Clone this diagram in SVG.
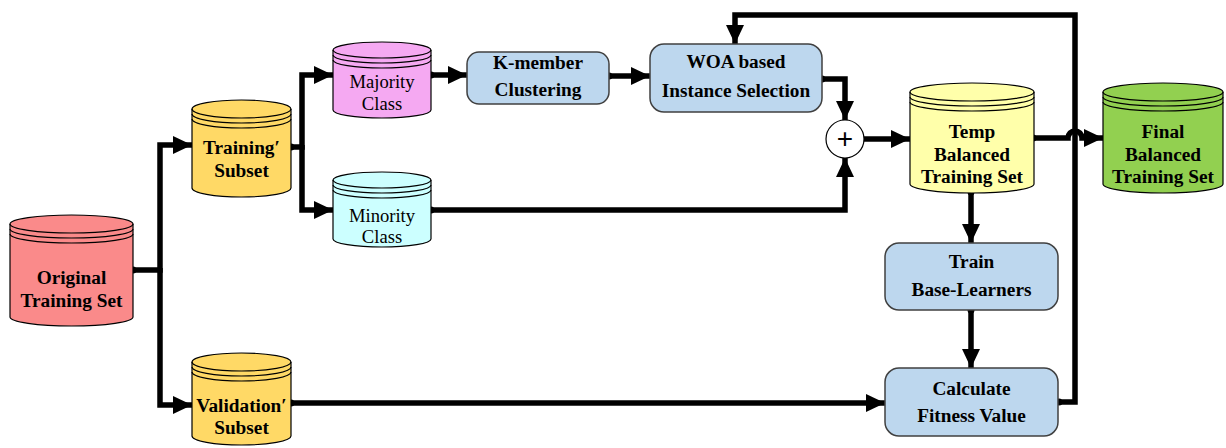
<svg xmlns="http://www.w3.org/2000/svg" width="1226" height="448" viewBox="0 0 1226 448">
<defs>
<style>
.cyl{stroke:#000;stroke-width:1.2}
.cap{fill:none;stroke:#000;stroke-width:1.2}
.box{fill:#BDD7EE;stroke:#404040;stroke-width:1.5}
.tb{font-family:"Liberation Serif","Times New Roman",serif;font-weight:bold;font-size:19.3px;text-anchor:middle;fill:#000}
.tr{font-family:"Liberation Serif","Times New Roman",serif;font-size:18.6px;text-anchor:middle;fill:#000}
.c{fill:none;stroke:#000;stroke-width:5.5;stroke-linejoin:miter}
</style>
<marker id="ah" markerUnits="userSpaceOnUse" markerWidth="20" markerHeight="20" viewBox="0 0 20 20" refX="19" refY="10" orient="auto">
<path d="M0,1 L19,10 L0,19 Z" fill="#000"/>
</marker>
<marker id="dot" markerUnits="userSpaceOnUse" markerWidth="8" markerHeight="8" viewBox="0 0 8 8" refX="4" refY="4" orient="auto">
<circle cx="4" cy="4" r="3.5" fill="#000"/>
</marker>
</defs>
<rect width="1226" height="448" fill="#fff"/>

<g id="connectors">
<path class="c" d="M133,270 H160 V145 H192" marker-start="url(#dot)" marker-end="url(#ah)"/>
<path class="c" d="M160,268 V405 H192" marker-end="url(#ah)"/>
<path class="c" d="M291,147 H302 V75 H333" marker-start="url(#dot)" marker-end="url(#ah)"/>
<path class="c" d="M302,145 V210 H333" marker-end="url(#ah)"/>
<path class="c" d="M431,75 H467" marker-start="url(#dot)" marker-end="url(#ah)"/>
<path class="c" d="M609,76 H650" marker-start="url(#dot)" marker-end="url(#ah)"/>
<path class="c" d="M822,79 H845 V120" marker-start="url(#dot)" marker-end="url(#ah)"/>
<path class="c" d="M431,210 H845 V158" marker-start="url(#dot)" marker-end="url(#ah)"/>
<path class="c" d="M864,139 H910" marker-end="url(#ah)"/>
<path class="c" d="M1033,138 H1068 A7,7 0 0 1 1082,138 H1103" marker-start="url(#dot)" marker-end="url(#ah)"/>
<path class="c" d="M971,192 V243" marker-start="url(#dot)" marker-end="url(#ah)"/>
<path class="c" d="M971,310 V368" marker-start="url(#dot)" marker-end="url(#ah)"/>
<path class="c" d="M291,403 H885" marker-start="url(#dot)" marker-end="url(#ah)"/>
<path class="c" d="M1059,402 H1075 V15 H735 V44" marker-start="url(#dot)" marker-end="url(#ah)"/>
</g>

<g id="original">
<path class="cyl" fill="#FA8A8A" d="M10,224 A61.5,9 0 0 1 133,224 V317 A61.5,9 0 0 1 10,317 Z"/>
<path class="cap" d="M10,224 A61.5,9 0 0 0 133,224 M10,229 A61.5,9 0 0 0 133,229 M10,234 A61.5,9 0 0 0 133,234"/>
<text class="tb" x="71.5" y="284">Original</text>
<text class="tb" x="71.5" y="307">Training Set</text>
</g>

<g id="training-subset">
<path class="cyl" fill="#FFD966" d="M192,109 A49.5,9 0 0 1 291,109 V188 A49.5,9 0 0 1 192,188 Z"/>
<path class="cap" d="M192,109 A49.5,9 0 0 0 291,109 M192,114 A49.5,9 0 0 0 291,114 M192,119 A49.5,9 0 0 0 291,119"/>
<text class="tb" x="241.5" y="154">Training′</text>
<text class="tb" x="241.5" y="177">Subset</text>
</g>

<g id="validation-subset">
<path class="cyl" fill="#FFD966" d="M192,362 A49.5,9 0 0 1 291,362 V436 A49.5,9 0 0 1 192,436 Z"/>
<path class="cap" d="M192,362 A49.5,9 0 0 0 291,362 M192,367 A49.5,9 0 0 0 291,367 M192,372 A49.5,9 0 0 0 291,372"/>
<text class="tb" x="241.5" y="412">Validation′</text>
<text class="tb" x="241.5" y="434">Subset</text>
</g>

<g id="majority">
<path class="cyl" fill="#F5A9F2" d="M333,50 A49,8 0 0 1 431,50 V110 A49,8 0 0 1 333,110 Z"/>
<path class="cap" d="M333,50 A49,8 0 0 0 431,50 M333,55 A49,8 0 0 0 431,55 M333,60 A49,8 0 0 0 431,60"/>
<text class="tr" x="382" y="88">Majority</text>
<text class="tr" x="382" y="110">Class</text>
</g>

<g id="minority">
<path class="cyl" fill="#CCFFFF" d="M333,180 A49,8 0 0 1 431,180 V239 A49,8 0 0 1 333,239 Z"/>
<path class="cap" d="M333,180 A49,8 0 0 0 431,180 M333,185 A49,8 0 0 0 431,185 M333,190 A49,8 0 0 0 431,190"/>
<text class="tr" x="382" y="222">Minority</text>
<text class="tr" x="382" y="243">Class</text>
</g>

<g id="kmember">
<rect class="box" x="467" y="52" width="142" height="52" rx="12"/>
<text class="tb" x="538" y="69">K-member</text>
<text class="tb" x="538" y="96">Clustering</text>
</g>

<g id="woa">
<rect class="box" x="650" y="44" width="172" height="68" rx="14"/>
<text class="tb" x="736" y="68">WOA based</text>
<text class="tb" x="736" y="97">Instance Selection</text>
</g>

<g id="plus">
<circle cx="845" cy="139" r="19" fill="#fff" stroke="#000" stroke-width="1.2"/>
<text x="845" y="148" font-family="Liberation Sans, Arial, sans-serif" font-size="28" text-anchor="middle">+</text>
</g>

<g id="temp">
<path class="cyl" fill="#FFFFAA" d="M910,92 A62,9 0 0 1 1034,92 V184 A62,9 0 0 1 910,184 Z"/>
<path class="cap" d="M910,92 A62,9 0 0 0 1034,92 M910,97 A62,9 0 0 0 1034,97 M910,102 A62,9 0 0 0 1034,102"/>
<text class="tb" x="972" y="138">Temp</text>
<text class="tb" x="972" y="161">Balanced</text>
<text class="tb" x="972" y="183">Training Set</text>
</g>

<g id="final">
<path class="cyl" fill="#92D050" d="M1103,92 A60,9 0 0 1 1223,92 V184 A60,9 0 0 1 1103,184 Z"/>
<path class="cap" d="M1103,92 A60,9 0 0 0 1223,92 M1103,97 A60,9 0 0 0 1223,97 M1103,102 A60,9 0 0 0 1223,102"/>
<text class="tb" x="1163" y="138">Final</text>
<text class="tb" x="1163" y="161">Balanced</text>
<text class="tb" x="1163" y="183">Training Set</text>
</g>

<g id="train">
<rect class="box" x="885" y="243" width="173" height="67" rx="14"/>
<text class="tb" x="971.5" y="268">Train</text>
<text class="tb" x="971.5" y="296">Base-Learners</text>
</g>

<g id="calc">
<rect class="box" x="885" y="368" width="173" height="68" rx="14"/>
<text class="tb" x="971.5" y="395">Calculate</text>
<text class="tb" x="971.5" y="422">Fitness Value</text>
</g>
</svg>
